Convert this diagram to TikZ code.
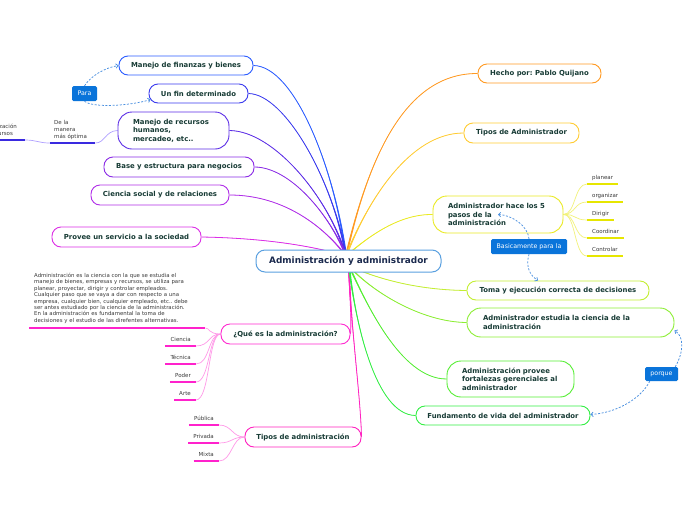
\documentclass[tikz,border=0pt]{standalone}
\usepackage{fontspec}
\setmainfont{DejaVu Sans}
\frenchspacing
\usetikzlibrary{arrows.meta,calc}
\pgfdeclarelayer{background}
\pgfsetlayers{background,main}
\definecolor{cFin}{HTML}{2B5CFF}
\definecolor{cFdet}{HTML}{3A3AEE}
\definecolor{cRrhh}{HTML}{5B2CE6}
\definecolor{cBase}{HTML}{8A2BE6}
\definecolor{cCsoc}{HTML}{B02EE8}
\definecolor{cProv}{HTML}{DC2FE6}
\definecolor{cQue}{HTML}{FF2AD0}
\definecolor{cTipa}{HTML}{FF22C0}
\definecolor{cHecho}{HTML}{FF9A22}
\definecolor{cTipad}{HTML}{FFCC33}
\definecolor{cCinco}{HTML}{EAEA22}
\definecolor{cToma}{HTML}{C4EE33}
\definecolor{cEstud}{HTML}{8CEE33}
\definecolor{cProvB}{HTML}{55EE33}
\definecolor{cFund}{HTML}{33EE44}
\definecolor{cCenter}{HTML}{5AA0E0}
\definecolor{ctext}{HTML}{1B2A4E}
\definecolor{ntext}{HTML}{173B35}
\definecolor{ltext}{HTML}{3A3A3A}
\definecolor{tagblue}{HTML}{0A74DA}
\definecolor{linkblue}{HTML}{4A90E0}
\definecolor{subV}{HTML}{B0A0FF}
\definecolor{subP}{HTML}{FF99E8}
\definecolor{subY}{HTML}{F2F27A}
\definecolor{ulV}{HTML}{3A2AE0}
\definecolor{ulP}{HTML}{FF22CC}
\definecolor{ulY}{HTML}{E6E600}
\newcommand\brline[5]{%
  \fill[#1] (#2) .. controls (#3) and (#4) .. ([xshift=-1.1pt]#5) -- ([xshift=1.1pt]#5) .. controls (#4) and (#3) .. (#2) -- cycle;
  \draw[#1, line width=0.8pt] (#2) .. controls (#3) and (#4) .. (#5);}
\tikzset{
  topic/.style={draw=#1, fill=white, line width=0.9pt, rounded corners=9pt, text=ntext,
    font=\fontsize{6.9}{8.4}\selectfont\bfseries, inner sep=0pt, align=center},
  multi/.style={rounded corners=14pt, align=left},
  tag/.style={fill=tagblue, text=white, rounded corners=1.5pt, font=\fontsize{6.3}{7}\selectfont, inner sep=0pt},
  leaf/.style={font=\fontsize{5.5}{6.5}\selectfont, text=ltext, inner xsep=5pt, inner ysep=4.5pt, text height=4pt, text depth=0pt},
  mleaf/.style={font=\fontsize{5.5}{7}\selectfont, text=ltext, align=left},
  link/.style={draw=linkblue, line width=0.75pt, dash pattern=on 2pt off 1.6pt, -{Straight Barb[length=2.2pt,width=4.4pt]}},
  sub/.style={draw=#1, line width=0.7pt},
  ul/.style={draw=#1, line width=1.3pt},
}
\begin{document}
\begin{tikzpicture}[x=1pt,y=-1pt]
\useasboundingbox (0,0) rectangle (696,520);
\clip (0,0) rectangle (696,520);
% central topic
\node[draw=cCenter, fill=white, line width=1pt, rounded corners=9pt, text=ctext,
  font=\fontsize{8.9}{10}\selectfont\bfseries, minimum width=185pt, minimum height=22pt, inner sep=0pt]
  (ctr) at (348.5,261) {Administración y administrador};
\coordinate (cu) at (346,256);
\coordinate (cd) at (349,266);
% left topics
\node[topic=cFin, minimum width=134pt, minimum height=19pt] (fin) at (186,65.5) {Manejo de finanzas y bienes};
\node[topic=cFdet, minimum width=99pt, minimum height=19pt] (fdet) at (198.5,93.5) {Un fin determinado};
\node[topic=cRrhh, multi, text width=81pt, inner xsep=15pt, minimum height=37pt] (rrhh) at (173.5,130.5)
  {Manejo de recursos\\humanos,\\mercadeo, etc..};
\node[topic=cBase, minimum width=150pt, minimum height=20pt] (base) at (179,167) {Base y estructura para negocios};
\node[topic=cCsoc, minimum width=138pt, minimum height=20pt] (csoc) at (160,195) {Ciencia social y de relaciones};
\node[topic=cProv, minimum width=149pt, minimum height=20pt] (prov) at (126.5,237) {Provee un servicio a la sociedad};
\node[topic=cQue, minimum width=129pt, minimum height=20pt] (que) at (285.5,334) {¿Qué es la administración?};
\node[topic=cTipa, minimum width=116pt, minimum height=20pt] (tipa) at (303,437) {Tipos de administración};
% right topics
\node[topic=cHecho, minimum width=123pt, minimum height=19pt] (hecho) at (539.5,73.5) {Hecho por: Pablo Quijano};
\node[topic=cTipad, minimum width=115pt, minimum height=20pt] (tipad) at (521.5,133) {Tipos de Administrador};
\node[topic=cCinco, multi, text width=100pt, inner xsep=15pt, minimum height=37pt] (cinco) at (498,214.5)
  {\mbox{Administrador hace los 5}\\pasos de la\\administración};
\node[topic=cToma, minimum width=182pt, minimum height=19pt] (toma) at (558,290.5) {Toma y ejecución correcta de decisiones};
\node[topic=cEstud, multi, text width=175pt, inner xsep=16pt, minimum height=29pt] (estud) at (570.5,322.5)
  {Administrador estudia la ciencia de la\\administración};
\node[topic=cProvB, multi, text width=97pt, inner xsep=15pt, minimum height=36pt] (provb) at (510.5,379)
  {Administración provee\\\mbox{fortalezas gerenciales al}\\administrador};
\node[topic=cFund, minimum width=174pt, minimum height=19pt] (fund) at (503,415.5) {Fundamento de vida del administrador};
% tags
\node[tag, minimum width=25pt, minimum height=15pt] (para) at (84.5,93.5) {Para};
\node[tag, minimum width=76pt, minimum height=15pt] (basic) at (529,246.5) {Basicamente para la};
\node[tag, minimum width=33pt, minimum height=14pt] (porque) at (661.5,374) {porque};
% leaves
\node[mleaf, anchor=south west, text width=37pt, inner xsep=4pt, inner ysep=3.4pt] (dela) at (50,143) {De la\\manera\\más óptima};
\node[mleaf, anchor=south east, text width=41pt, inner xsep=3pt, inner ysep=4.5pt] (opt) at (25,140) {Optimización\\de recursos};
\node[mleaf, anchor=south west, text width=166pt, inner xsep=5pt, inner ysep=4.4pt,
  font=\fontsize{5.4}{6.4}\selectfont] (def) at (29,328)
  {Administración es la ciencia con la que se estudia el\\
   manejo de bienes, empresas y recursos, se utiliza para\\
   planear, proyectar, dirigir y controlar empleados.\\
   Cualquier paso que se vaya a dar con respecto a una\\
   empresa, cualquier bien, cualquier empleado, etc.. debe\\
   ser antes estudiado por la ciencia de la administración.\\
   En la administración es fundamental la toma de\\
   decisiones y el estudio de las direfentes alternativas.};
\node[leaf, anchor=south east] (cien) at (196,346) {Ciencia};
\node[leaf, anchor=south east] (tecn) at (196,364) {Técnica};
\node[leaf, anchor=south east] (pode) at (196,382) {Poder};
\node[leaf, anchor=south east] (arte) at (196,400) {Arte};
\node[leaf, anchor=south east] (publ) at (219,425) {Pública};
\node[leaf, anchor=south east] (priv) at (219,443) {Privada};
\node[leaf, anchor=south east] (mixt) at (219,461) {Mixta};
\node[leaf, anchor=south west] (plan) at (587,184) {planear};
\node[leaf, anchor=south west] (orga) at (587,202) {organizar};
\node[leaf, anchor=south west] (diri) at (587,220) {Dirigir};
\node[leaf, anchor=south west] (coor) at (587,238) {Coordinar};
\node[leaf, anchor=south west] (cont) at (587,256) {Controlar};
% underlines
\foreach \n in {cien,tecn,pode,arte,publ,priv,mixt,def}
  \draw[ul=ulP] (\n.south west) -- (\n.south east);
\foreach \n in {plan,orga,diri,coor,cont}
  \draw[ul=ulY] (\n.south west) -- (\n.south east);
\foreach \n in {dela,opt}
  \draw[ul=ulV] (\n.south west) -- (\n.south east);
% dashed links
\draw[link] (para.north) .. controls (91,76) and (104,68) .. (fin.west);
\draw[link] (para.south) .. controls (92,108) and (130,106) .. ([xshift=2pt,yshift=-6pt]fdet.west);
\draw[link] (basic.north) .. controls (528,226) and (512,215) .. (cinco.center);
\draw[link] (basic.south) .. controls (525,268) and (531,276) .. ([xshift=-20pt]toma.north);
\draw[link] ([xshift=-3pt]porque.north east) .. controls (684,352) and (684,336) .. ([yshift=-8pt]estud.east);
\draw[link] ([xshift=5pt]porque.south west) .. controls (640,400) and (615,413) .. ([yshift=1pt]fund.east);
% branches on background
\begin{pgfonlayer}{background}
\fill[white] (0,0) rectangle (696,520);
\brline{cFin}{fin.east}{295,66}{335,170}{cu}
\brline{cFdet}{fdet.east}{285,94}{333,180}{cu}
\brline{cRrhh}{rrhh.east}{275,131}{330,200}{cu}
\brline{cBase}{base.east}{290,167}{330,215}{cu}
\brline{cCsoc}{csoc.east}{285,195}{325,228}{cu}
\brline{cProv}{prov.east}{260,238}{310,245}{cu}
\brline{cHecho}{hecho.west}{400,73}{366,170}{cu}
\brline{cTipad}{tipad.west}{410,133}{368,200}{cu}
\brline{cCinco}{cinco.west}{400,214}{370,235}{cu}
\brline{cQue}{que.east}{352,320}{349,290}{cd}
\brline{cTipa}{tipa.east}{361,400}{350,320}{cd}
\brline{cToma}{toma.west}{420,290}{380,280}{cd}
\brline{cEstud}{estud.west}{420,322}{370,290}{cd}
\brline{cProvB}{provb.west}{400,379}{365,300}{cd}
\brline{cFund}{fund.west}{375,415}{355,320}{cd}
% sub connectors
\draw[sub=subV] (rrhh.west) .. controls (105,131) and (105,143) .. (dela.south east);
\draw[sub=subV] (dela.south west) .. controls (38,143) and (37,140) .. (opt.south east);
\foreach \n in {def,cien,tecn,pode,arte}
  \draw[sub=subP] (que.west) .. controls (208,334) and (210,0|-\n.south east) .. (\n.south east);
\foreach \n in {publ,priv,mixt}
  \draw[sub=subP] (tipa.west) .. controls (232,437) and (232,0|-\n.south east) .. (\n.south east);
\foreach \n in {plan,orga,diri,coor,cont}
  \draw[sub=subY] (cinco.east) .. controls (576,214) and (574,0|-\n.south west) .. (\n.south west);
\end{pgfonlayer}
\end{tikzpicture}
\end{document}
